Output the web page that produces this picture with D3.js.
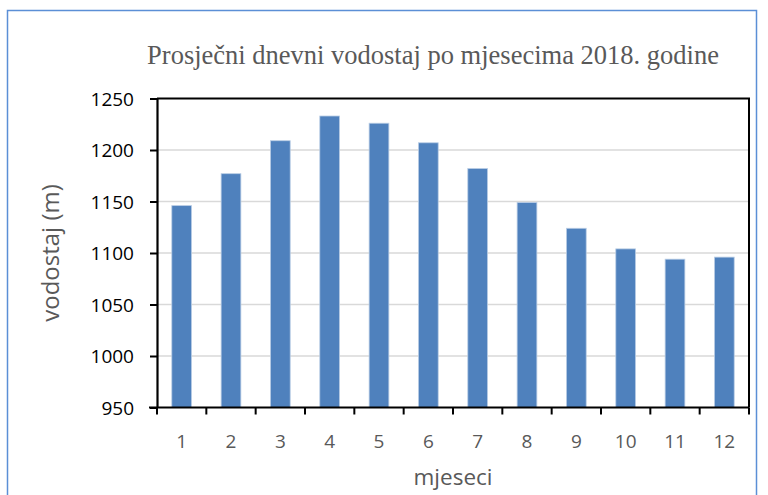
<!DOCTYPE html>
<html>
<head>
<meta charset="utf-8">
<script src="https://cdn.jsdelivr.net/npm/d3@7"></script>
<style>
  body { margin: 0; background: #fff; }
  svg { display: block; }
</style>
</head>
<body>
<svg id="chart" width="768" height="495"></svg>
<script>
// data
var months = ['1', '2', '3', '4', '5', '6', '7', '8', '9', '10', '11', '12'];
var levels = [1146, 1177, 1209, 1233, 1226, 1207, 1182, 1149, 1124, 1104, 1094, 1096];
var yTicks = [950, 1000, 1050, 1100, 1150, 1200, 1250];

var svg = d3.select('svg#chart');
var pLeft = 157, pRight = 749, pTop = 98.5, pBottom = 407.5;

// outer chart frame
svg.append('rect')
    .attr('x', 7.5)
    .attr('y', 10.5)
    .attr('width', 749)
    .attr('height', 500)
    .attr('fill', 'none')
    .attr('stroke', '#5b8fd6')
    .attr('stroke-width', 1.5);

svg.append('text')
    .attr('x', 433)
    .attr('y', 64)
    .attr('text-anchor', 'middle')
    .style('font-family', '"Liberation Serif", "Times New Roman", serif')
    .style('font-size', '26.5px')
    .attr('fill', '#595959')
    .text('Prosječni dnevni vodostaj po mjesecima 2018. godine');

var x = d3.scaleBand()
    .domain(months)
    .range([pLeft, pRight])
    .paddingInner(0.6)
    .paddingOuter(0.3);

var y = d3.scaleLinear()
    .domain([950, 1250])
    .range([pBottom, pTop]);

// gridlines
svg.append('g')
    .selectAll('line')
    .data(yTicks.slice(1, -1))
    .join('line')
    .attr('x1', pLeft)
    .attr('x2', pRight)
    .attr('y1', function(d) { return y(d); })
    .attr('y2', function(d) { return y(d); })
    .attr('stroke', '#d9d9d9')
    .attr('stroke-width', 1.5);

// bars
svg.append('g')
    .selectAll('rect')
    .data(levels)
    .join('rect')
    .attr('x', function(d, i) { return x(months[i]); })
    .attr('y', function(d) { return y(d); })
    .attr('width', x.bandwidth())
    .attr('height', function(d) { return pBottom - y(d); })
    .attr('fill', '#4f81bd')
    .attr('stroke', '#b9cde5')
    .attr('stroke-width', 0.8);

// plot box top + right
svg.append('path')
    .attr('d', 'M' + pLeft + ',' + pTop + 'H' + pRight + 'V' + pBottom)
    .attr('fill', 'none')
    .attr('stroke', '#000')
    .attr('stroke-width', 2);

// y axis
var yAxis = svg.append('g')
    .attr('transform', 'translate(' + pLeft + ',0)')
    .call(d3.axisLeft(y).tickValues(yTicks).tickFormat(d3.format('d'))
        .tickSize(7).tickSizeOuter(0).tickPadding(16));
yAxis.select('.domain').attr('stroke-width', 2.2);
yAxis.selectAll('.tick line').attr('stroke-width', 2);
yAxis.selectAll('text')
    .style('font-family', '"Open Sans", sans-serif')
    .style('font-size', '19px')
    .attr('fill', '#000')
    .attr('dy', '0.36em');

// x axis, ticks between categories
var xAxis = svg.append('g')
    .attr('transform', 'translate(0,' + pBottom + ')');
xAxis.append('line')
    .attr('x1', pLeft - 8)
    .attr('x2', pRight)
    .attr('stroke', '#000')
    .attr('stroke-width', 2.2);
xAxis.selectAll('line.tick')
    .data(d3.range(months.length + 1))
    .join('line')
    .classed('tick', true)
    .attr('x1', function(i) { return pLeft + i * x.step(); })
    .attr('x2', function(i) { return pLeft + i * x.step(); })
    .attr('y1', 0)
    .attr('y2', 7)
    .attr('stroke', '#000')
    .attr('stroke-width', 2);
xAxis.selectAll('text')
    .data(months)
    .join('text')
    .attr('x', function(d) { return x(d) + x.bandwidth() / 2; })
    .attr('y', 40)
    .attr('text-anchor', 'middle')
    .style('font-family', '"Open Sans", sans-serif')
    .style('font-size', '19px')
    .attr('fill', '#595959')
    .text(function(d) { return d; });

svg.append('text')
    .attr('x', (pLeft + pRight) / 2)
    .attr('y', 485)
    .attr('text-anchor', 'middle')
    .style('font-family', '"Open Sans", sans-serif')
    .style('font-size', '22.5px')
    .attr('fill', '#595959')
    .text('mjeseci');

svg.append('text')
    .attr('transform', 'translate(59,' + (pTop + pBottom) / 2 + ')rotate(-90)')
    .attr('text-anchor', 'middle')
    .style('font-family', '"Open Sans", sans-serif')
    .style('font-size', '24px')
    .attr('fill', '#595959')
    .text('vodostaj (m)');
</script>
</body>
</html>
